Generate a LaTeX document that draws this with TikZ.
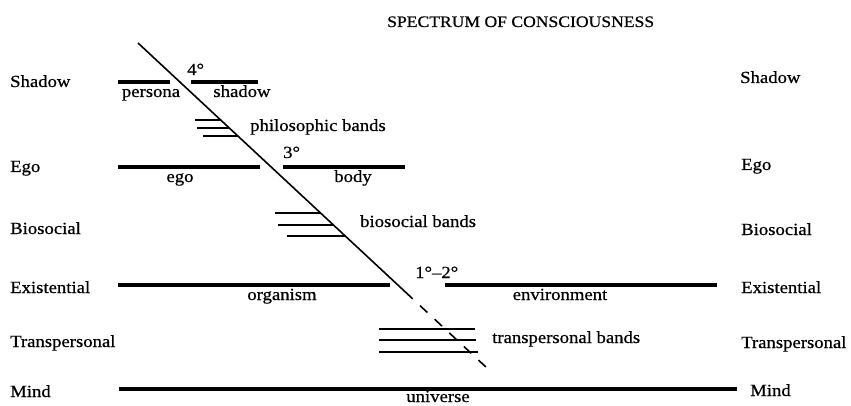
\documentclass[tikz,border=0pt]{standalone}
\usepackage{fontspec}
\setmainfont{Liberation Serif}[FakeStretch=1.1,FakeBold=0.6]
\usetikzlibrary{calc}
\begin{document}
\begin{tikzpicture}[x=1pt,y=-1pt,
  lbl/.style={inner sep=0pt,font=\fontsize{17}{20}\selectfont},
  ttl/.style={inner sep=0pt,font=\fontsize{16}{19}\selectfont},
  level/.style={line width=3.5pt},
  mindline/.style={line width=4.5pt},
  band/.style={line width=1.8pt},
  diag/.style={line width=1.6pt},
  diagdash/.style={line width=1.6pt,dash pattern=on 10pt off 10pt}]
\useasboundingbox (0,0) rectangle (851,406);

% title
\node[ttl,anchor=base west] (title) at (387,27) {SPECTRUM OF CONSCIOUSNESS};

% diagonal
\coordinate (dtop) at (138,43);
\coordinate (dbot) at (487,368);
\coordinate (dmid) at ($(dtop)!{(292-43)/325}!(dbot)$);
\draw[diag] (dtop) -- (dmid);
\draw[diagdash] (dmid) -- (dbot);

% level lines
\draw[level] (118,82) -- (170,82);
\draw[level] (191,82) -- (258,82);
\draw[level] (118,167) -- (260,167);
\draw[level] (283,167) -- (405,167);
\draw[level] (118,285) -- (390,285);
\draw[level] (445,285) -- (717,285);
\draw[mindline] (119,389) -- (737,389);

% philosophic bands
\draw[band] (195,120) -- ($(dtop)!{(120-43)/325}!(dbot)$);
\draw[band] (197,128) -- ($(dtop)!{(128-43)/325}!(dbot)$);
\draw[band] (203,136) -- ($(dtop)!{(136-43)/325}!(dbot)$);

% biosocial bands
\draw[band] (275,213) -- ($(dtop)!{(213-43)/325}!(dbot)$);
\draw[band] (278,225) -- ($(dtop)!{(225-43)/325}!(dbot)$);
\draw[band] (287,236) -- ($(dtop)!{(236-43)/325}!(dbot)$);

% transpersonal bands
\draw[band] (379,329) -- (475,329);
\draw[band] (379,340) -- (476,340);
\draw[band] (379,352) -- (478,352);

% left labels
\node[lbl,anchor=base west] (lShadow) at (10,87) {Shadow};
\node[lbl,anchor=base west] (lEgo) at (10,172) {Ego};
\node[lbl,anchor=base west] (lBio) at (10,234) {Biosocial};
\node[lbl,anchor=base west] (lExist) at (10,293) {Existential};
\node[lbl,anchor=base west] (lTrans) at (10,347) {Transpersonal};
\node[lbl,anchor=base west] (lMind) at (10,397) {Mind};

% right labels
\node[lbl,anchor=base west] (rShadow) at (740,83) {Shadow};
\node[lbl,anchor=base west] (rEgo) at (741,170) {Ego};
\node[lbl,anchor=base west] (rBio) at (741,235) {Biosocial};
\node[lbl,anchor=base west] (rExist) at (741,293) {Existential};
\node[lbl,anchor=base west] (rTrans) at (741,348) {Transpersonal};
\node[lbl,anchor=base west] (rMind) at (750,396) {Mind};

% inner labels
\node[lbl,anchor=base west] (deg4) at (187,75) {4°};
\node[lbl,anchor=base] (persona) at (151,97) {persona};
\node[lbl,anchor=base] (shadow) at (242,97) {shadow};
\node[lbl,anchor=base west] (philo) at (250,131) {philosophic bands};
\node[lbl,anchor=base west] (deg3) at (283,158) {3°};
\node[lbl,anchor=base] (ego) at (180,182) {ego};
\node[lbl,anchor=base] (body) at (353,182) {body};
\node[lbl,anchor=base west] (bioband) at (360,227) {biosocial bands};
\node[lbl,anchor=base west] (deg12) at (415,278) {1°–2°};
\node[lbl,anchor=base] (organism) at (282,300) {organism};
\node[lbl,anchor=base] (environment) at (560,300) {environment};
\node[lbl,anchor=base west] (transband) at (492,343) {transpersonal bands};
\node[lbl,anchor=base] (universe) at (438,402) {universe};
\end{tikzpicture}
\end{document}
